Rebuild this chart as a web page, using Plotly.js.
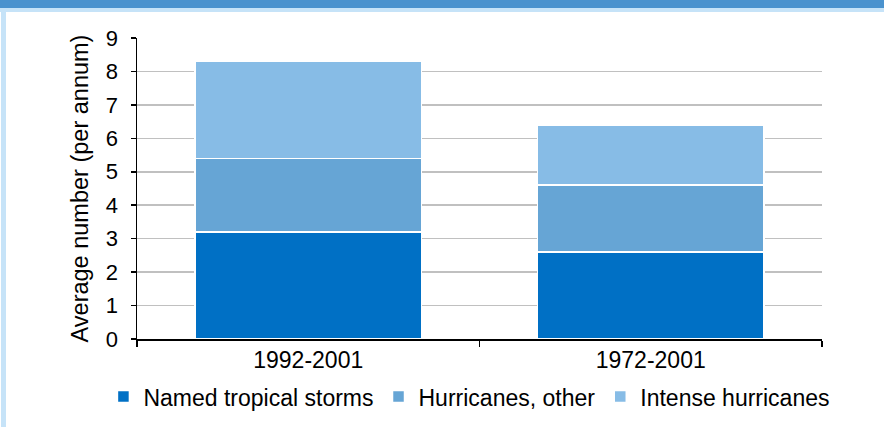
<!DOCTYPE html>
<html>
<head>
<meta charset="utf-8">
<script src="https://cdn.plot.ly/plotly-3.0.1.min.js"></script>
<style>
  html, body { margin: 0; padding: 0; background: #ffffff; }
  #frame { position: relative; width: 884px; height: 427px; overflow: hidden; background: #ffffff; }
  #bandTop { position: absolute; left: 0; top: 0; width: 884px; height: 8px; background: #4A92CE; }
  #bandTopLight { position: absolute; left: 0; top: 8px; width: 884px; height: 4px; background: #C6E3F8; }
  #bandLeft { position: absolute; left: 1px; top: 8px; width: 5px; height: 419px; background: #C6E3F8; }
  #chart { position: absolute; left: 0; top: 0; width: 884px; height: 427px; }
</style>
</head>
<body>
<div id="frame">
  <div id="bandTop"></div>
  <div id="bandTopLight"></div>
  <div id="bandLeft"></div>
  <div id="chart"></div>
</div>
<script>
// Average annual counts of Atlantic storms by period
const periods = ["1992-2001", "1972-2001"];
const namedStorms = [3.2, 2.6];
const hurricanesOther = [2.2, 2.0];
const intenseHurricanes = [2.9, 1.8];

const seriesNames = ["Named tropical storms", "Hurricanes, other", "Intense hurricanes"];
const seriesColors = ["#0070C5", "#66A5D5", "#87BCE6"];
const seriesValues = [namedStorms, hurricanesOther, intenseHurricanes];

const fontFamily = "Liberation Sans, Arial, sans-serif";

const traces = seriesValues.map((vals, i) => ({
  type: "bar",
  name: seriesNames[i],
  x: periods,
  y: vals,
  marker: { color: seriesColors[i], line: { color: "#ffffff", width: 1.5 } },
  hoverinfo: "skip"
}));

const layout = {
  width: 884,
  height: 427,
  margin: { l: 137, r: 62, t: 38, b: 88, pad: 0, autoexpand: false },
  paper_bgcolor: "rgba(0,0,0,0)",
  plot_bgcolor: "rgba(0,0,0,0)",
  barmode: "stack",
  bargap: 0.34,
  font: { family: fontFamily, color: "#000000", size: 23 },
  showlegend: true,
  legend: {
    orientation: "h",
    x: -0.049, xanchor: "left",
    y: -0.12, yanchor: "top",
    font: { family: fontFamily, size: 23, color: "#000000" },
    itemwidth: 30,
    traceorder: "normal",
    bgcolor: "rgba(0,0,0,0)"
  },
  xaxis: {
    type: "category",
    showline: true,
    linecolor: "#000000",
    linewidth: 1.5,
    ticks: "outside",
    tickson: "boundaries",
    ticklen: 6,
    tickcolor: "#000000",
    tickwidth: 1.5,
    showgrid: false,
    tickfont: { family: fontFamily, size: 23, color: "#000000" },
    fixedrange: true
  },
  yaxis: {
    range: [0, 9],
    dtick: 1,
    tick0: 0,
    showline: true,
    linecolor: "#000000",
    linewidth: 1.5,
    ticks: "outside",
    ticklen: 5,
    tickcolor: "#000000",
    tickwidth: 1.5,
    ticklabelstandoff: 8,
    showgrid: true,
    gridcolor: "#C0C0C0",
    gridwidth: 1.5,
    zeroline: false,
    tickfont: { family: fontFamily, size: 22, color: "#000000" },
    title: {
      text: "Average number (per annum)",
      font: { family: fontFamily, size: 23.5, color: "#000000" },
      standoff: 10
    },
    fixedrange: true
  }
};

Plotly.newPlot("chart", traces, layout, { displayModeBar: false, staticPlot: true });
</script>
</body>
</html>
